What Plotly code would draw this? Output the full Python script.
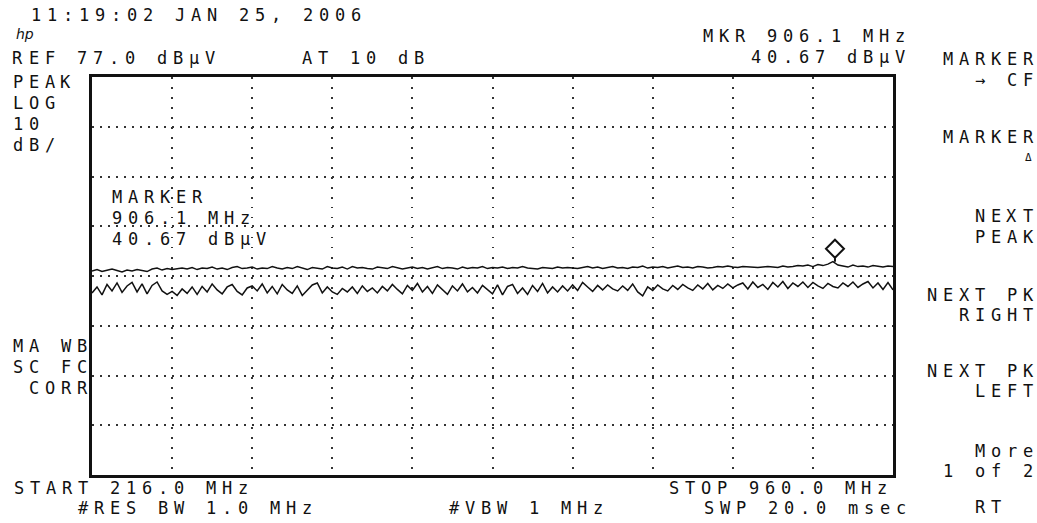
import numpy as np
import plotly.graph_objects as go

# ---------------- data ----------------
START_MHZ = 216.0
STOP_MHZ = 960.0
REF_DBUV = 77.0
DB_PER_DIV = 10.0
N_VDIV = 8
N_HDIV = 10
MARKER_MHZ = 906.1
MARKER_DBUV = 40.67

upper_dbuv = [
    38.0, 38.3, 37.9, 38.2, 38.4, 38.1, 37.8, 38.2, 38.0, 38.3, 38.1, 37.9, 38.4, 38.6, 38.2, 38.5,
    38.3, 38.5, 38.6, 38.4, 38.7, 38.3, 38.6, 38.5, 38.8, 38.4, 38.6, 38.3, 38.7, 38.9, 38.5, 38.6,
    38.8, 38.4, 38.6, 38.5, 38.9, 38.6, 38.4, 38.7, 38.5, 38.9, 38.6, 38.3, 38.7, 38.5, 38.4, 38.9,
    38.6, 38.5, 38.8, 38.4, 38.9, 38.6, 38.7, 38.5, 38.4, 38.8, 38.6, 38.5, 38.9, 38.7, 38.4, 38.6,
    38.8, 38.5, 38.7, 38.4, 38.6, 38.9, 38.5, 38.7, 38.6, 38.4, 38.8, 38.5, 38.7, 38.6, 38.9, 38.5,
    38.7, 38.6, 38.8, 38.5, 38.7, 38.6, 38.9, 38.6, 38.5, 38.4, 38.7, 38.6, 38.5, 38.8, 38.6, 38.7,
    38.6, 38.5, 38.7, 38.9, 38.6, 38.8, 38.5, 38.7, 38.9, 38.6, 38.7, 38.5, 38.8, 38.7, 39.0, 38.6,
    38.8, 38.7, 38.9, 38.6, 38.8, 39.0, 38.7, 38.8, 38.6, 38.9, 38.8, 38.6, 38.7, 38.9, 38.8, 39.0,
    38.8, 38.7, 38.9, 38.8, 38.7, 38.7, 38.8, 38.9, 38.8, 38.7, 39.0, 38.8, 38.9, 39.1, 39.0, 39.2,
    38.9, 39.3, 39.1, 39.4, 39.9, 39.2, 39.0, 38.8, 39.2, 38.9, 39.0, 38.8, 39.1, 38.9, 38.8, 39.0, 38.9,
]

lower_dbuv = [
    33.6, 34.8, 33.2, 35.3, 34.0, 35.6, 33.7, 35.0, 35.7, 33.8, 35.4, 33.4, 35.1, 35.8, 34.0, 33.3,
    33.9, 33.1, 34.4, 33.5, 34.8, 33.3, 34.9, 33.8, 35.4, 34.2, 33.4, 34.8, 35.3, 33.9, 33.2, 34.6,
    35.0, 34.0, 35.4, 33.6, 34.9, 33.4, 35.3, 34.2, 33.5, 35.0, 33.1, 34.1, 35.2, 35.6, 33.6, 34.8,
    33.8, 33.3, 34.5, 33.8, 34.8, 33.5, 35.0, 33.9, 34.6, 33.6, 34.9, 34.0, 35.3, 34.3, 33.4, 35.1,
    34.1, 35.5, 33.8, 34.9, 33.5, 35.2, 34.3, 33.3, 35.0, 34.0, 35.4, 33.8, 34.7, 33.6, 35.1, 34.2,
    33.4, 35.2, 33.2, 34.9, 35.3, 33.5, 34.6, 33.3, 35.1, 33.9, 35.5, 33.6, 34.8, 33.8, 35.0, 34.0,
    35.2, 34.1, 35.7, 34.8, 33.9, 35.1, 34.2, 35.2, 34.4, 34.0, 35.0, 34.1, 35.4, 33.8, 33.0, 34.8,
    34.1, 35.2, 34.4, 34.0, 35.1, 34.3, 35.3, 34.6, 34.1, 35.2, 34.4, 35.5, 34.2, 35.1, 34.5, 35.4,
    34.6, 35.2, 35.6, 34.4, 35.8, 34.7, 35.3, 34.3, 35.7, 34.8, 35.9, 34.5, 35.6, 34.9, 35.8, 34.7,
    35.7, 35.0, 34.5, 35.5, 34.9, 34.6, 35.6, 34.9, 35.8, 34.7, 35.4, 35.9, 34.6, 35.6, 34.3, 35.7, 34.2,
]

freq_mhz = np.linspace(START_MHZ, STOP_MHZ, len(upper_dbuv))

# ---------------- layout geometry ----------------
W, H = 1037, 523
L, R, T, B = 92, 893, 77, 475
FONT = "DejaVu Sans Mono"
FS = 17
PITCH = 16.0
INK = "#111111"

bottom_db = REF_DBUV - N_VDIV * DB_PER_DIV

fig = go.Figure()
fig.add_trace(go.Scatter(x=freq_mhz, y=upper_dbuv, mode="lines",
                         line=dict(color=INK, width=1.4), hoverinfo="skip"))
fig.add_trace(go.Scatter(x=freq_mhz, y=lower_dbuv, mode="lines",
                         line=dict(color=INK, width=1.5), hoverinfo="skip"))

annotations = []


def px2paper(px, py):
    return (px - L) / (R - L), 1 - (py - T) / (B - T)


def put_text(s, x0, y, size=FS, right=None):
    """Place each character on a fixed pitch grid (instrument font)."""
    if right is not None:
        x0 = right - (len(s) - 1) * PITCH
    for i, ch in enumerate(s):
        if ch == " ":
            continue
        xp, yp = px2paper(x0 + i * PITCH, y)
        annotations.append(dict(text=ch, x=xp, y=yp, xref="paper", yref="paper",
                                xanchor="center", yanchor="middle", showarrow=False,
                                font=dict(family=FONT, size=size, color=INK)))


put_text("11:19:02 JAN 25, 2006", 36, 15)
xp, yp = px2paper(25, 34)
annotations.append(dict(text="<i>hp</i>", x=xp, y=yp, xref="paper", yref="paper",
                        xanchor="center", yanchor="middle", showarrow=False,
                        font=dict(family="DejaVu Sans", size=14, color=INK)))
put_text("REF 77.0 dBµV", 17.5, 58)
put_text("AT 10 dB", 307, 58)
put_text("MKR 906.1 MHz", 0, 36, right=900)
put_text("40.67 dBµV", 0, 57, right=900)

# left column
put_text("PEAK", 17.5, 82)
put_text("LOG", 17.5, 103)
put_text("10", 17.5, 124)
put_text("dB/", 17.5, 145)
put_text("MA WB", 18, 346)
put_text("SC FC", 18, 367)
put_text(" CORR", 18, 388)

# marker readout inside the screen
put_text("MARKER", 117, 197)
put_text("906.1 MHz", 117, 218)
put_text("40.67 dBµV", 117, 239)

# softkeys
RC = 1028
put_text("MARKER", 0, 59, right=RC)
put_text("→ CF", 0, 80, right=RC)
put_text("MARKER", 0, 137, right=RC)
put_text("Δ", 0, 158, right=RC, size=11)
put_text("NEXT", 0, 216, right=RC)
put_text("PEAK", 0, 237, right=RC)
put_text("NEXT PK", 0, 295, right=RC)
put_text("RIGHT", 0, 315, right=RC)
put_text("NEXT PK", 0, 371, right=RC)
put_text("LEFT", 0, 391, right=RC)
put_text("More", 0, 451, right=RC)
put_text("1 of 2", 0, 471, right=RC)
put_text("RT", 980, 507)

# bottom annotations
put_text("START 216.0 MHz", 19, 487.5)
put_text("#RES BW 1.0 MHz", 83, 507.5)
put_text("#VBW 1 MHz", 0, 507.5, right=598)
put_text("STOP 960.0 MHz", 674, 487.5)
put_text("SWP 20.0 msec", 709, 507.5)

bx0, by1 = px2paper(95, 181)
bx1, by0 = px2paper(440, 248)
shapes = [
    # grid is blanked behind the on-screen marker readout
    dict(type="rect", xref="paper", yref="paper", x0=bx0, x1=bx1, y0=by0, y1=by1,
         fillcolor="white", line=dict(width=0), layer="between"),
    # marker diamond sitting on the marker point
    dict(type="path", xref="x", yref="y", xsizemode="pixel", ysizemode="pixel",
         xanchor=MARKER_MHZ, yanchor=MARKER_DBUV,
         path="M0,0 L9,9 L0,18 L-9,9 Z M0,0 L0,-4",
         line=dict(color=INK, width=2), fillcolor="rgba(0,0,0,0)"),
]

fig.update_layout(
    width=W, height=H,
    margin=dict(l=L, r=W - R, t=T, b=H - B, pad=0),
    paper_bgcolor="white", plot_bgcolor="white",
    showlegend=False,
    annotations=annotations,
    shapes=shapes,
    xaxis=dict(range=[START_MHZ, STOP_MHZ], tick0=START_MHZ,
               dtick=(STOP_MHZ - START_MHZ) / N_HDIV,
               showticklabels=False, ticks="", zeroline=False,
               showgrid=True, gridcolor="#333333", gridwidth=1.5, griddash="1.5px,8.5px",
               showline=True, mirror=True, linecolor=INK, linewidth=2.5),
    yaxis=dict(range=[bottom_db, REF_DBUV], tick0=bottom_db, dtick=DB_PER_DIV,
               showticklabels=False, ticks="", zeroline=False,
               showgrid=True, gridcolor="#333333", gridwidth=1.5, griddash="1.5px,6.5px",
               showline=True, mirror=True, linecolor=INK, linewidth=2.5),
)

fig.write_html("out.html", config={"displayModeBar": False},
               post_script="document.body.style.margin='0px';")
